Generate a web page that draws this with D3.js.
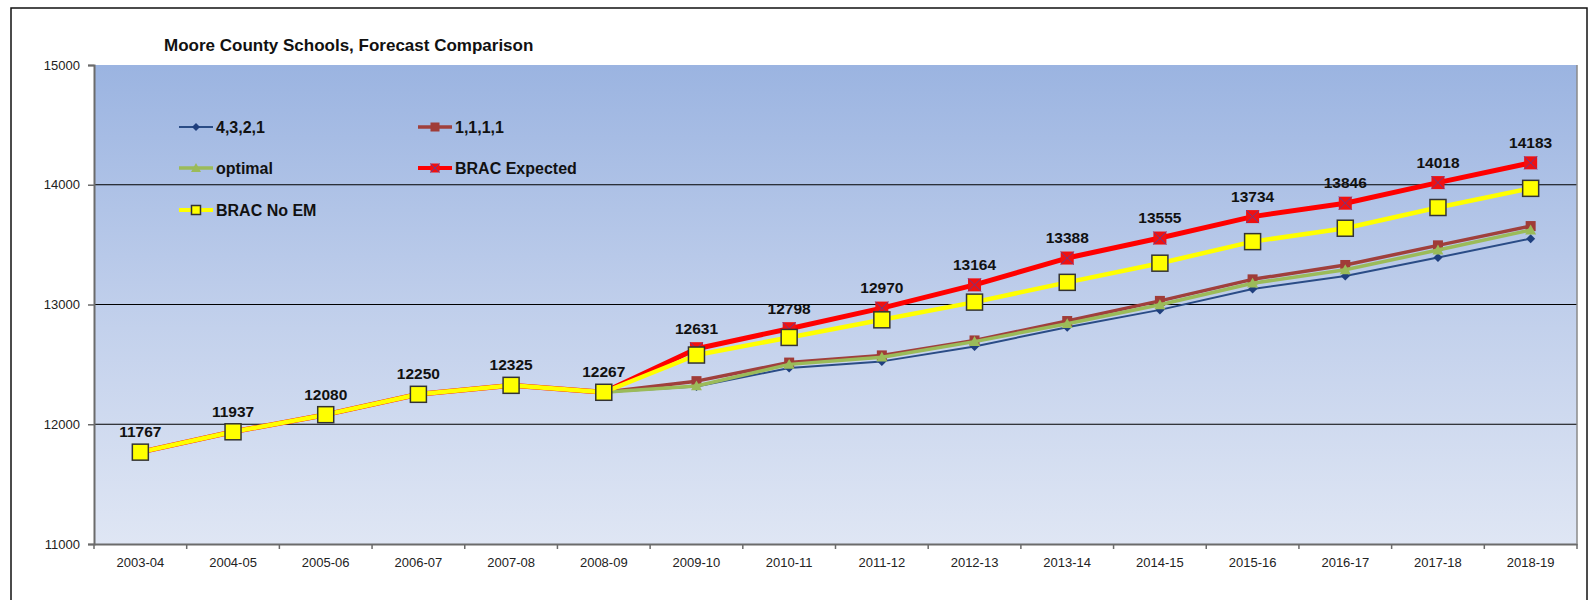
<!DOCTYPE html>
<html>
<head>
<meta charset="utf-8">
<script src="https://cdn.jsdelivr.net/npm/d3@7"></script>
<style>
  body { margin: 0; background: #fff; }
  svg { display: block; font-family: "Liberation Sans", Arial, sans-serif; }
  .tick-label { font-size: 13px; fill: #222; }
  .data-label { font-size: 15.5px; font-weight: bold; fill: #111; }
  .legend-text { font-size: 16px; font-weight: bold; fill: #111; }
</style>
</head>
<body>
<div id="chart"></div>
<script>
//Data
const years = ['2003-04', '2004-05', '2005-06', '2006-07', '2007-08', '2008-09', '2009-10', '2010-11',
               '2011-12', '2012-13', '2013-14', '2014-15', '2015-16', '2016-17', '2017-18', '2018-19'];
const history = [11767, 11937, 12080, 12250, 12325, 12267];
const s4321 = history.concat([12315, 12470, 12525, 12650, 12810, 12955, 13130, 13238, 13392, 13550]);
const s1111 = history.concat([12360, 12515, 12575, 12700, 12862, 13030, 13210, 13330, 13494, 13655]);
const optimal = history.concat([12320, 12500, 12560, 12690, 12840, 12998, 13178, 13290, 13455, 13622]);
const bracExpected = history.concat([12631, 12798, 12970, 13164, 13388, 13555, 13734, 13846, 14018, 14183]);
const bracNoEM = history.concat([12578, 12725, 12872, 13020, 13185, 13345, 13525, 13637, 13810, 13970]);
const yTicks = [11000, 12000, 13000, 14000, 15000];

const w = 1593;
const h = 600;
const plotLeft = 94, plotRight = 1577, plotTop = 65, plotBottom = 544;

//Scales
const xScale = d3.scaleBand()
                 .domain(years)
                 .range([plotLeft, plotRight]);
const yScale = d3.scaleLinear()
                 .domain([11000, 15000])
                 .range([plotBottom, plotTop]);
const cx = d => xScale(d) + xScale.bandwidth() / 2;

const svg = d3.select('#chart')
              .append('svg')
              .attr('width', w)
              .attr('height', h);

//Background gradient
const grad = svg.append('defs')
                .append('linearGradient')
                .attr('id', 'bg')
                .attr('x1', 0).attr('y1', 0).attr('x2', 0).attr('y2', 1);
grad.append('stop').attr('offset', '0%').attr('stop-color', '#9bb4e1');
grad.append('stop').attr('offset', '55%').attr('stop-color', '#c3d1ec');
grad.append('stop').attr('offset', '100%').attr('stop-color', '#dfe6f4');

//Outer border
svg.append('rect')
   .attr('x', 11).attr('y', 8)
   .attr('width', 1576).attr('height', 600)
   .attr('fill', '#fff')
   .attr('stroke', '#111')
   .attr('stroke-width', 1.5);

svg.append('rect')
   .attr('x', plotLeft).attr('y', plotTop)
   .attr('width', plotRight - plotLeft).attr('height', plotBottom - plotTop)
   .attr('fill', 'url(#bg)');

//Gridlines
svg.selectAll('.grid')
   .data(yTicks.filter(d => d > 11000 && d < 15000))
   .enter()
   .append('line')
   .attr('x1', plotLeft).attr('x2', plotRight)
   .attr('y1', d => yScale(d)).attr('y2', d => yScale(d))
   .attr('stroke', '#000')
   .attr('stroke-width', 1);

//Axes
const yAxis = d3.axisLeft(yScale).tickValues(yTicks).tickSize(6).tickPadding(8).tickFormat(d3.format('d'));
const gy = svg.append('g')
              .attr('id', 'y-axis')
              .attr('transform', `translate(${plotLeft}, 0)`)
              .call(yAxis);
gy.select('.domain').attr('stroke', '#6b6b6b').attr('stroke-width', 2);
gy.selectAll('.tick line').attr('stroke', '#6b6b6b').attr('stroke-width', 1.5);
gy.selectAll('.tick text').attr('class', 'tick-label');
gy.attr('font-family', null).attr('font-size', null);

const xAxis = d3.axisBottom(xScale).tickSize(0).tickPadding(14);
const gx = svg.append('g')
              .attr('id', 'x-axis')
              .attr('transform', `translate(0, ${plotBottom})`)
              .call(xAxis);
gx.select('.domain').attr('stroke', '#6b6b6b').attr('stroke-width', 2);
gx.selectAll('.tick text').attr('class', 'tick-label');
gx.attr('font-family', null).attr('font-size', null);

//category boundary ticks
gx.selectAll('.bound')
  .data(years.concat(['end']))
  .enter()
  .append('line')
  .attr('x1', (d, i) => i < years.length ? xScale(d) : plotRight)
  .attr('x2', (d, i) => i < years.length ? xScale(d) : plotRight)
  .attr('y1', 0).attr('y2', 5)
  .attr('stroke', '#6b6b6b')
  .attr('stroke-width', 1.5);

svg.append('line')
   .attr('x1', plotRight).attr('x2', plotRight)
   .attr('y1', plotTop).attr('y2', plotBottom)
   .attr('stroke', '#8a8a8a')
   .attr('stroke-width', 1.5);

//Markers
function marker(g, type, x, y, s) {
  if (type === 'diamond') {
    g.append('path')
     .attr('d', `M${x},${y - s}L${x + s},${y}L${x},${y + s}L${x - s},${y}Z`)
     .attr('fill', '#1f3f7e');
  } else if (type === 'square') {
    g.append('rect')
     .attr('x', x - s).attr('y', y - s).attr('width', 2 * s).attr('height', 2 * s)
     .attr('fill', '#a03c38');
  } else if (type === 'triangle') {
    g.append('path')
     .attr('d', `M${x},${y - s}L${x + s},${y + s * 0.8}L${x - s},${y + s * 0.8}Z`)
     .attr('fill', '#9bbb59');
  } else if (type === 'cross') {
    g.append('rect')
     .attr('x', x - s).attr('y', y - s).attr('width', 2 * s).attr('height', 2 * s)
     .attr('fill', '#f01010');
    g.append('path')
     .attr('d', `M${x - s},${y - s}L${x + s},${y + s}M${x + s},${y - s}L${x - s},${y + s}`)
     .attr('stroke', '#6a3a8a')
     .attr('stroke-width', 1);
  } else if (type === 'yellow') {
    g.append('rect')
     .attr('x', x - s).attr('y', y - s).attr('width', 2 * s).attr('height', 2 * s)
     .attr('fill', '#ffff00')
     .attr('stroke', '#333')
     .attr('stroke-width', 1.5);
  }
}

const series = [
  { name: '4,3,2,1', values: s4321, color: '#2a4c86', width: 2, type: 'diamond', size: 4.5, lsize: 4 },
  { name: '1,1,1,1', values: s1111, color: '#a0403c', width: 3.5, type: 'square', size: 5, lsize: 4.5 },
  { name: 'optimal', values: optimal, color: '#9bbb59', width: 3.5, type: 'triangle', size: 5.5, lsize: 5 },
  { name: 'BRAC Expected', values: bracExpected, color: '#ff0000', width: 5, type: 'cross', size: 6.5, lsize: 4.5 },
  { name: 'BRAC No EM', values: bracNoEM, color: '#ffff00', width: 4.5, type: 'yellow', size: 8, lsize: 4.5 }
];

const line = d3.line()
               .x((d, i) => cx(years[i]))
               .y(d => yScale(d));

series.forEach(s => {
  svg.append('path')
     .datum(s.values)
     .attr('d', line)
     .attr('fill', 'none')
     .attr('stroke', s.color)
     .attr('stroke-width', s.width)
     .attr('stroke-linejoin', 'round');
  const g = svg.append('g');
  s.values.forEach((v, i) => marker(g, s.type, cx(years[i]), yScale(v), s.size));
});

//Data labels
svg.selectAll('.data-label')
   .data(bracExpected)
   .enter()
   .append('text')
   .attr('class', 'data-label')
   .attr('x', (d, i) => cx(years[i]))
   .attr('y', d => yScale(d) - 15)
   .attr('text-anchor', 'middle')
   .text(d => d);

//Title
svg.append('text')
   .attr('x', 164)
   .attr('y', 51)
   .attr('font-size', '17px')
   .attr('font-weight', 'bold')
   .attr('fill', '#111')
   .text('Moore County Schools, Forecast Comparison');

//Legend
const legendPos = [[179, 127], [418, 127], [179, 168], [418, 168], [179, 210]];
series.forEach((s, i) => {
  const [lx, ly] = legendPos[i];
  const g = svg.append('g');
  g.append('line')
   .attr('x1', lx).attr('x2', lx + 34)
   .attr('y1', ly).attr('y2', ly)
   .attr('stroke', s.color)
   .attr('stroke-width', Math.min(s.width, 4));
  marker(g, s.type, lx + 17, ly, s.lsize);
  g.append('text')
   .attr('class', 'legend-text')
   .attr('x', lx + 37)
   .attr('y', ly + 6)
   .text(s.name);
});
</script>
</body>
</html>
